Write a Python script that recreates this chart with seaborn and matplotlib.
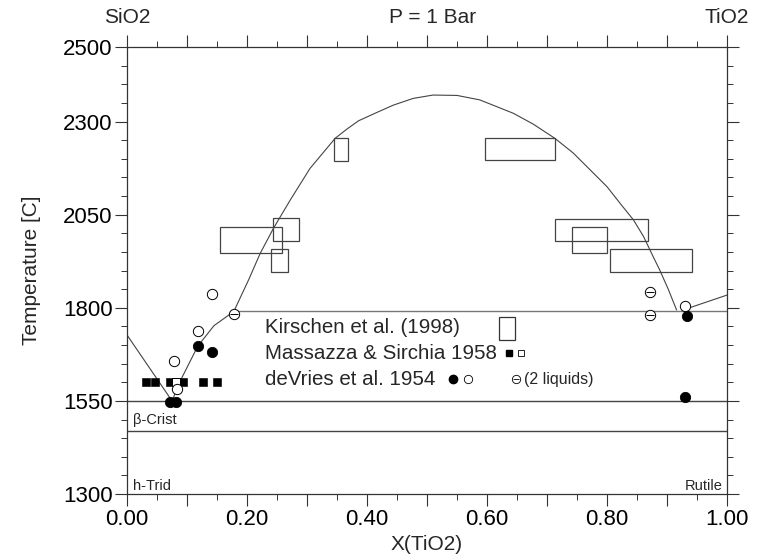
import numpy as np
import matplotlib
matplotlib.use("Agg")
import matplotlib.pyplot as plt
from matplotlib.patches import Rectangle
from matplotlib.ticker import MultipleLocator, FixedLocator
import seaborn as sns

# ---------------- data ----------------
# liquidus, SiO2-rich side (x, T)
left_liq_x = [0.0, 0.075]
left_liq_t = [1727, 1550]
rise_x = [0.075, 0.092, 0.118, 0.145, 0.178]
rise_t = [1550, 1614, 1697, 1752, 1790]
# two-liquid dome
dome_x = [0.178, 0.203, 0.222, 0.244, 0.272, 0.305, 0.347, 0.366, 0.386,
          0.416, 0.444, 0.477, 0.510, 0.550, 0.588, 0.616, 0.644, 0.677,
          0.713, 0.744, 0.772, 0.800, 0.822, 0.844, 0.861, 0.877, 0.888,
          0.902, 0.916]
dome_t = [1790, 1876, 1946, 2013, 2089, 2174, 2255, 2279, 2302,
          2324, 2344, 2362, 2371, 2370, 2358, 2340, 2322, 2293,
          2255, 2215, 2170, 2125, 2080, 2036, 1991, 1937, 1901,
          1850, 1794]
# TiO2-side liquidus
right_liq_x = [0.934, 1.0]
right_liq_t = [1798, 1834]

# isotherms
monotectic_t = 1790
monotectic_x = [0.178, 1.0]
eutectic_t = 1550
crist_trid_t = 1470

# Kirschen et al. (1998) boxes
kir_x0 = [0.345, 0.155, 0.243, 0.2405, 0.597, 0.714, 0.741, 0.805]
kir_x1 = [0.368, 0.258, 0.287, 0.268, 0.714, 0.869, 0.800, 0.941]
kir_t0 = [2195, 1946, 1979, 1897, 2196, 1979, 1946, 1895]
kir_t1 = [2255, 2016, 2040, 1957, 2255, 2038, 2016, 1957]

# Massazza & Sirchia 1958
mas_fill_x = [0.031, 0.046, 0.071, 0.094, 0.126, 0.150]
mas_fill_t = [1600, 1600, 1600, 1600, 1600, 1600]
mas_open_x = [0.082]
mas_open_t = [1600]

# deVries et al. 1954
dev_fill_x = [0.072, 0.082, 0.118, 0.141, 0.934, 0.930]
dev_fill_t = [1546, 1546, 1697, 1682, 1779, 1560]
dev_open_x = [0.078, 0.083, 0.118, 0.141, 0.930]
dev_open_t = [1657, 1581, 1738, 1836, 1805]
dev_2liq_x = [0.178, 0.871, 0.871]
dev_2liq_t = [1783, 1842, 1780]

x_ticks = [0.0, 0.1, 0.2, 0.3, 0.4, 0.5, 0.6, 0.7, 0.8, 0.9, 1.0]
x_labels = ["0.00", "", "0.20", "", "0.40", "", "0.60", "", "0.80", "", "1.00"]
y_ticks = [1300, 1550, 1800, 2050, 2300, 2500]

# ---------------- style ----------------
sns.set_theme(style="ticks")
plt.rcParams["font.family"] = ["Liberation Sans", "DejaVu Sans"]
plt.rcParams["axes.edgecolor"] = "#333333"
plt.rcParams["axes.linewidth"] = 0.9

fig = plt.figure(figsize=(7.6, 5.56), dpi=100)
ax = fig.add_axes([127 / 760, 1 - 494 / 556, 600 / 760, 447 / 556])

lc = "#444444"
lw = 0.8
for xs, ts in [(left_liq_x, left_liq_t), (rise_x, rise_t), (dome_x, dome_t),
               (right_liq_x, right_liq_t)]:
    sns.lineplot(x=xs, y=ts, ax=ax, color=lc, lw=lw, sort=False, estimator=None)

ax.axhline(eutectic_t, color=lc, lw=1.0, zorder=1)
ax.axhline(crist_trid_t, color=lc, lw=1.0, zorder=1)
sns.lineplot(x=monotectic_x, y=[monotectic_t] * 2, ax=ax, color="#777777", lw=1.0,
             estimator=None)

for x0, x1, t0, t1 in zip(kir_x0, kir_x1, kir_t0, kir_t1):
    ax.add_patch(Rectangle((x0, t0), x1 - x0, t1 - t0, fill=False,
                           edgecolor="#444444", lw=0.9, zorder=3))

sns.scatterplot(x=mas_fill_x, y=mas_fill_t, ax=ax, marker="s", s=28,
                color="black", edgecolor="black", zorder=4)
sns.scatterplot(x=mas_open_x, y=mas_open_t, ax=ax, marker="s", s=28,
                facecolor="white", edgecolor="black", linewidth=0.7, zorder=5)
sns.scatterplot(x=dev_open_x, y=dev_open_t, ax=ax, marker="o", s=55,
                facecolor="white", edgecolor="black", linewidth=0.7, zorder=5)
sns.scatterplot(x=dev_fill_x, y=dev_fill_t, ax=ax, marker="o", s=55,
                color="black", edgecolor="black", zorder=6)
sns.scatterplot(x=dev_2liq_x, y=dev_2liq_t, ax=ax, marker="o", s=55,
                facecolor="white", edgecolor="black", linewidth=0.7, zorder=5)
sns.scatterplot(x=dev_2liq_x, y=dev_2liq_t, ax=ax, marker="_", s=36,
                color="black", linewidth=0.7, zorder=6)

# ---------------- axes ----------------
ax.set_xlim(0, 1)
ax.set_ylim(1300, 2500)
ax.xaxis.set_major_locator(FixedLocator(x_ticks))
ax.set_xticklabels(x_labels)
ax.xaxis.set_minor_locator(MultipleLocator(0.05))
ax.yaxis.set_major_locator(FixedLocator(y_ticks))
ax.yaxis.set_minor_locator(MultipleLocator(50))
ax.tick_params(which="both", top=True, right=True, direction="out",
               labeltop=False, labelright=False, colors="#333333",
               labelcolor="black")
ax.tick_params(which="major", length=8.5, width=0.8, labelsize=16, pad=2)
ax.tick_params(which="minor", length=4, width=0.7)
ax.set_xlabel("X(TiO2)", fontsize=15, labelpad=4)
ax.set_ylabel("Temperature [C]", fontsize=15, labelpad=16)
for s in ax.spines.values():
    s.set_visible(True)

ax.text(0.0, 1.067, "SiO2", transform=ax.transAxes, ha="center", va="center", fontsize=15)
ax.text(0.51, 1.067, "P = 1 Bar", transform=ax.transAxes, ha="center", va="center", fontsize=15)
ax.text(1.0, 1.067, "TiO2", transform=ax.transAxes, ha="center", va="center", fontsize=15)

ax.text(0.01, 1499, "\u03b2-Crist", fontsize=10.5, ha="left", va="center")
ax.text(0.01, 1321, "h-Trid", fontsize=10.5, ha="left", va="center")
ax.text(0.993, 1321, "Rutile", fontsize=10.5, ha="right", va="center")

# legend-like annotation
ax.text(0.23, 1748, "Kirschen et al. (1998)", fontsize=14.8, ha="left", va="center")
ax.text(0.23, 1678, "Massazza & Sirchia 1958", fontsize=14.8, ha="left", va="center")
ax.text(0.23, 1608, "deVries et al. 1954", fontsize=14.8, ha="left", va="center")
ax.add_patch(Rectangle((0.620, 1713), 0.026, 62, fill=False, edgecolor="#333333", lw=0.9))
ax.plot([0.637], [1678], marker="s", ms=4.2, color="black", ls="none")
ax.plot([0.656], [1678], marker="s", ms=4.2, mfc="white", mec="black", mew=0.6, ls="none")
ax.plot([0.544], [1608], marker="o", ms=6, color="black", ls="none")
ax.plot([0.569], [1608], marker="o", ms=6, mfc="white", mec="black", mew=0.6, ls="none")
ax.plot([0.648], [1608], marker="o", ms=6, mfc="white", mec="black", mew=0.6, ls="none")
ax.plot([0.648], [1608], marker="_", ms=5, color="black", mew=0.6, ls="none")
ax.text(0.661, 1608, "(2 liquids)", fontsize=11.5, ha="left", va="center")

fig.savefig("out.png", dpi=100)
